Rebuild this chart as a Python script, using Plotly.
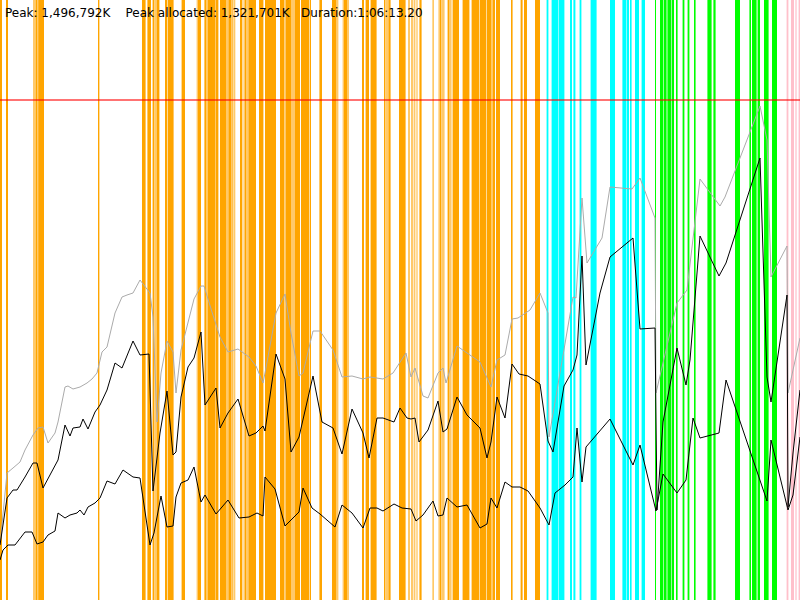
import plotly.graph_objects as go

# time axis in seconds, memory in thousands of K
# gray: heap size, black: used before / after collection
heap_t = [0, 35, 65, 100, 125, 165, 190, 215, 240, 275, 290, 325, 340, 365, 400, 435, 460, 485, 510, 535,
          575, 610, 635, 665, 700, 725, 750, 765, 785, 805, 835, 865, 880, 905, 940, 970, 1005, 1020, 1060, 1100,
          1140, 1190, 1245, 1280, 1315, 1325, 1380, 1425, 1455, 1495, 1515, 1565, 1600, 1665, 1710, 1760, 1815, 1850, 1915, 1965,
          2030, 2055, 2075, 2115, 2140, 2190, 2215, 2230, 2285, 2335, 2400, 2455, 2485, 2525, 2560, 2590, 2650, 2700, 2740, 2745,
          2865, 2880, 2910, 2935, 3010, 3050, 3160, 3200, 3275, 3280, 3385, 3435, 3500, 3600, 3625, 3800, 3835, 3855, 3935, 3940,
          4000]
heap_kk = [165, 381, 396, 414, 450, 495, 516, 519, 471, 501, 534, 639, 642, 633, 639, 651, 663, 681, 744, 759,
           861, 909, 915, 921, 960, 939, 921, 849, 534, 681, 777, 744, 621, 750, 834, 903, 942, 942, 864, 789,
           744, 753, 729, 702, 651, 681, 861, 918, 801, 672, 681, 807, 807, 750, 669, 672, 663, 669, 663, 681,
           741, 669, 696, 612, 606, 681, 696, 651, 762, 741, 714, 639, 720, 735, 843, 846, 870, 921, 861, 489,
           909, 906, 1206, 1011, 1086, 1239, 1233, 1266, 1146, 621, 891, 930, 1263, 1182, 1209, 1482, 1380, 969, 1062, 621,
           786]

before_t = [0, 35, 65, 85, 125, 165, 185, 215, 290, 325, 350, 365, 400, 415, 440, 475, 500, 535, 575, 610,
            665, 700, 745, 765, 800, 835, 865, 880, 905, 940, 970, 1005, 1025, 1080, 1100, 1140, 1190, 1245, 1280, 1315,
            1325, 1380, 1425, 1455, 1495, 1565, 1610, 1665, 1710, 1760, 1815, 1845, 1885, 1915, 1970, 2000, 2035, 2055, 2075, 2095,
            2140, 2190, 2215, 2235, 2285, 2335, 2400, 2435, 2455, 2485, 2525, 2560, 2595, 2640, 2700, 2740, 2765, 2820, 2865, 2885,
            2910, 2930, 3000, 3050, 3165, 3200, 3275, 3285, 3315, 3385, 3430, 3450, 3500, 3595, 3630, 3800, 3835, 3855, 3935, 3940,
            3965, 4000]
before_kk = [165, 306, 330, 330, 369, 411, 411, 336, 420, 525, 492, 516, 519, 543, 513, 564, 585, 630, 711, 696,
             777, 735, 738, 327, 501, 627, 435, 444, 609, 699, 726, 804, 585, 636, 516, 561, 603, 492, 501, 522,
             507, 738, 663, 444, 489, 672, 534, 516, 438, 573, 501, 426, 546, 546, 534, 576, 546, 543, 546, 474,
             510, 597, 504, 513, 609, 555, 516, 426, 474, 609, 546, 708, 678, 672, 648, 477, 444, 642, 690, 735,
             1032, 705, 921, 1029, 1086, 813, 816, 270, 534, 756, 645, 720, 1092, 972, 1011, 1326, 669, 594, 915, 279,
             441, 630]

after_t = [0, 15, 40, 75, 125, 160, 185, 215, 240, 275, 290, 325, 350, 385, 400, 420, 440, 475, 500, 535,
           575, 615, 665, 700, 750, 770, 805, 835, 865, 880, 905, 940, 970, 1005, 1025, 1080, 1140, 1195, 1245, 1285,
           1315, 1325, 1375, 1425, 1460, 1495, 1515, 1560, 1600, 1675, 1710, 1760, 1815, 1850, 1885, 1915, 1970, 2010, 2055, 2080,
           2115, 2165, 2190, 2215, 2235, 2285, 2335, 2400, 2435, 2455, 2485, 2525, 2560, 2600, 2640, 2700, 2745, 2775, 2825, 2865,
           2885, 2910, 2930, 3050, 3165, 3200, 3280, 3315, 3385, 3430, 3465, 3500, 3595, 3630, 3835, 3855, 3940, 3965, 4000]
after_kk = [120, 150, 165, 165, 204, 204, 168, 174, 195, 207, 261, 246, 255, 261, 270, 255, 279, 291, 306, 357,
            348, 390, 369, 366, 165, 201, 312, 219, 222, 309, 351, 360, 399, 294, 315, 258, 300, 246, 249, 261,
            252, 369, 333, 222, 243, 264, 336, 276, 258, 219, 285, 261, 216, 276, 276, 267, 288, 276, 273, 237,
            255, 297, 252, 255, 306, 279, 285, 216, 228, 306, 276, 354, 339, 339, 327, 276, 225, 321, 345, 369,
            516, 354, 459, 543, 405, 465, 267, 378, 321, 360, 546, 486, 501, 660, 297, 480, 270, 315, 489]

max_heap_kk = 1500

# collection events: start, end (s) and kind
gc_start = [0, 30, 165, 178, 188, 191, 490, 710, 737, 763, 772, 783, 825, 838, 908, 983, 990,
            1022, 1033, 1038, 1075, 1080, 1100, 1133, 1142, 1155, 1162, 1172, 1200, 1217, 1225, 1233, 1242,
            1295, 1325, 1400, 1422, 1428, 1458, 1475, 1505, 1550, 1597, 1660, 1683, 1713, 1720, 1738,
            1810, 1828, 1853, 1920, 1927, 1942, 1950, 1995, 2040, 2045, 2055, 2070, 2083, 2095, 2100,
            2163, 2192, 2200, 2207, 2238, 2250, 2263, 2313, 2358, 2400, 2433, 2458, 2463, 2480,
            2555, 2603, 2620, 2675,
            2733, 2758, 2790, 2795, 2850, 2867, 2898, 2953, 3050, 3112, 3130, 3135, 3150, 3175, 3208,
            3275, 3300, 3320, 3337, 3358, 3380, 3413, 3438, 3470, 3537, 3567, 3675, 3747, 3760, 3788, 3820, 3860,
            3933, 3955, 3977, 3993]
gc_end = [10, 40, 178, 188, 191, 220, 497, 728, 755, 772, 783, 797, 835, 868, 925, 990, 1005,
          1033, 1038, 1075, 1080, 1092, 1133, 1142, 1155, 1162, 1167, 1176, 1212, 1225, 1233, 1242, 1280,
          1317, 1380, 1422, 1428, 1458, 1475, 1500, 1547, 1555, 1610, 1683, 1692, 1720, 1738, 1745,
          1820, 1845, 1883, 1927, 1942, 1950, 1955, 2028, 2045, 2048, 2067, 2077, 2087, 2100, 2108,
          2168, 2200, 2207, 2223, 2248, 2258, 2295, 2347, 2397, 2430, 2458, 2463, 2475, 2500,
          2563, 2613, 2635, 2700,
          2742, 2790, 2795, 2822, 2860, 2877, 2907, 2983, 3075, 3130, 3135, 3145, 3158, 3195, 3225,
          3280, 3317, 3333, 3355, 3370, 3388, 3422, 3447, 3478, 3558, 3578, 3700, 3755, 3783, 3800, 3843, 3885,
          3942, 3970, 3983, 4000]
gc_kind = ['o', 'o', 'ol', 'o', 'ol', 'o', 'o', 'o', 'o', 'o', 'ol', 'o', 'o', 'o', 'o', 'ol', 'o',
           'o', 'ol', 'o', 'ol', 'o', 'o', 'ol', 'o', 'ol', 'o', 'o', 'o', 'ol', 'o', 'ol', 'o',
           'o', 'o', 'o', 'ol', 'o', 'ol', 'o', 'o', 'o', 'o', 'o', 'ol', 'ol', 'o', 'ol',
           'o', 'o', 'o', 'o', 'ol', 'o', 'ol', 'o', 'ol', 'o', 'ol', 'ol', 'o', 'ol', 'o',
           'o', 'ol', 'o', 'ol', 'o', 'ol', 'o', 'o', 'o', 'o', 'o', 'ol', 'o', 'o',
           'o', 'o', 'o', 'o',
           'c', 'c', 'cl', 'c', 'c', 'c', 'c', 'c', 'c', 'c', 'cl', 'c', 'c', 'c', 'c',
           'g', 'g', 'g', 'g', 'g', 'g', 'g', 'g', 'g', 'g', 'g', 'g', 'g', 'g', 'g', 'g', 'g',
           'p', 'p', 'p', 'p']

kind_colors = {'o': '#FFA500', 'ol': '#FFC96A', 'c': '#00FFFF', 'cl': '#88FFFF',
               'g': '#00FF00', 'p': '#FFC0CB'}

fig = go.Figure()

shapes = []
for s, e, k in zip(gc_start, gc_end, gc_kind):
    shapes.append(dict(type='rect', xref='x', yref='paper', x0=s, x1=e, y0=0, y1=1,
                       fillcolor=kind_colors[k], line=dict(width=0), layer='below'))
shapes.append(dict(type='line', xref='paper', yref='y', x0=0, x1=1, y0=max_heap_kk, y1=max_heap_kk,
                   line=dict(color='rgba(255,0,0,0.55)', width=2), layer='below'))

fig.add_trace(go.Scatter(x=heap_t, y=heap_kk, mode='lines', line=dict(color='#ABABAB', width=1)))
fig.add_trace(go.Scatter(x=before_t, y=before_kk, mode='lines', line=dict(color='black', width=1)))
fig.add_trace(go.Scatter(x=after_t, y=after_kk, mode='lines', line=dict(color='black', width=1)))

sp = '\u00a0'
fig.add_annotation(x=0, y=1, xref='paper', yref='paper', xanchor='left', yanchor='top',
                   xshift=3, yshift=-4, showarrow=False,
                   text=f"Peak: 1,496,792K{sp * 4}Peak allocated: 1,321,701K{sp * 3}Duration:1:06:13.20",
                   font=dict(family='DejaVu Sans', size=12, color='black'))

fig.update_layout(
    width=800, height=600,
    margin=dict(l=0, r=0, t=0, b=0),
    paper_bgcolor='white', plot_bgcolor='white',
    showlegend=False,
    shapes=shapes,
    xaxis=dict(range=[0, 4000], visible=False, fixedrange=True),
    yaxis=dict(range=[0, 1800], visible=False, fixedrange=True),
)

# page body has a default margin, drop it so the chart fills the window
fig.write_html("out.html", config={'displayModeBar': False},
               post_script="document.body.style.margin='0';")
